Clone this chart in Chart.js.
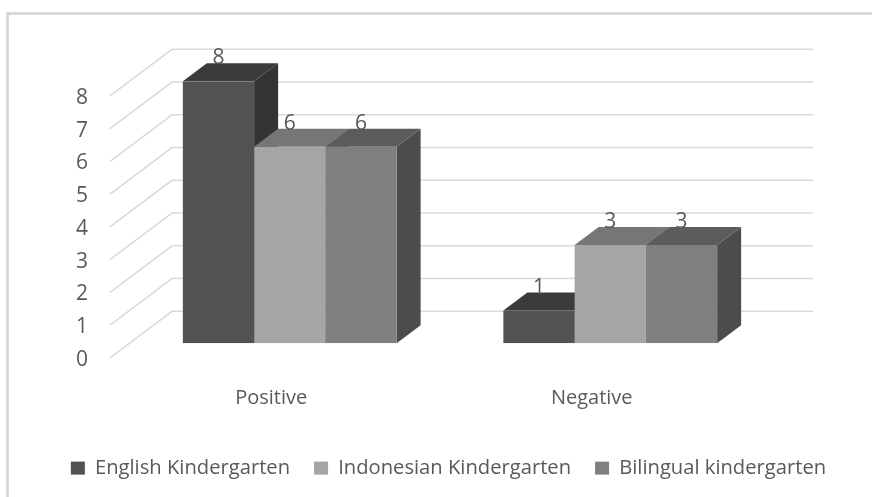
<!DOCTYPE html>
<html>
<head>
<meta charset="utf-8">
<style>
  html, body { margin: 0; padding: 0; background: #fff; }
  #wrap { position: relative; width: 872px; height: 497px; }
</style>
<script src="https://cdn.jsdelivr.net/npm/chart.js@4"></script>
</head>
<body>
<div id="wrap"><canvas id="chart" width="872" height="497"></canvas></div>
<script>
const categories = ['Positive', 'Negative'];
const seriesNames = ['English Kindergarten', 'Indonesian Kindergarten', 'Bilingual kindergarten'];
const englishValues = [8, 1];
const indonesianValues = [6, 3];
const bilingualValues = [6, 3];
const yTicks = [0, 1, 2, 3, 4, 5, 6, 7, 8];

const frontColors = ['#525252', '#a5a5a5', '#7f7f7f'];
const topColors = ['#3b3b3b', '#767676', '#5c5c5c'];
const sideColors = ['#333333', '#666666', '#4c4c4c'];
const textColor = '#595959';
const gridColor = '#d9d9d9';
const frameColor = '#d9d9d9';
const fontName = '"Open Sans", sans-serif';

// 3D offsets, measured from the bar plane
const barDepth = { x: 24, y: -18 };
const wallDepth = { x: 42.5, y: -32 };
const frontEdge = { x: -19.5, y: 14.5 };

const box3d = {
    id: 'box3d',
    beforeDraw(chart) {
        const ctx = chart.ctx;
        ctx.save();
        ctx.fillStyle = frameColor;
        ctx.fillRect(6, 12, 866, 3);
        ctx.fillRect(6, 12, 3, 485);
        ctx.restore();
    },
    beforeDatasetsDraw(chart) {
        const ctx = chart.ctx;
        const yScale = chart.scales.y;
        const area = chart.chartArea;

        // floor and wall grid lines
        ctx.save();
        ctx.strokeStyle = gridColor;
        ctx.lineWidth = 1.5;
        yTicks.forEach(function (t) {
            const y = yScale.getPixelForValue(t);
            ctx.beginPath();
            ctx.moveTo(area.left + frontEdge.x, y + frontEdge.y);
            ctx.lineTo(area.left + wallDepth.x, y + wallDepth.y);
            ctx.lineTo(area.right + wallDepth.x, y + wallDepth.y);
            ctx.stroke();
        });

        // tops and sides go first, the library's bars are the front faces
        chart.data.datasets.forEach(function (ds, i) {
            chart.getDatasetMeta(i).data.forEach(function (bar) {
                const l = bar.x - bar.width / 2;
                const r = bar.x + bar.width / 2;
                ctx.fillStyle = sideColors[i];
                ctx.beginPath();
                ctx.moveTo(r, bar.y);
                ctx.lineTo(r + barDepth.x, bar.y + barDepth.y);
                ctx.lineTo(r + barDepth.x, bar.base + barDepth.y);
                ctx.lineTo(r, bar.base);
                ctx.closePath();
                ctx.fill();
                ctx.fillStyle = topColors[i];
                ctx.beginPath();
                ctx.moveTo(l, bar.y);
                ctx.lineTo(l + barDepth.x, bar.y + barDepth.y);
                ctx.lineTo(r + barDepth.x, bar.y + barDepth.y);
                ctx.lineTo(r, bar.y);
                ctx.closePath();
                ctx.fill();
            });
        });
        ctx.restore();
    },
    afterDatasetsDraw(chart) {
        const ctx = chart.ctx;
        const yScale = chart.scales.y;
        const xScale = chart.scales.x;
        ctx.save();
        ctx.fillStyle = textColor;
        ctx.font = '21px ' + fontName;
        ctx.textAlign = 'center';
        ctx.textBaseline = 'middle';

        // value labels above each bar
        chart.data.datasets.forEach(function (ds, i) {
            chart.getDatasetMeta(i).data.forEach(function (bar, j) {
                ctx.fillText(ds.data[j], bar.x, bar.y - 23);
            });
        });

        // axis labels sit on the front edge of the floor
        yTicks.forEach(function (t) {
            ctx.fillText(t, 82, yScale.getPixelForValue(t) + frontEdge.y + 2);
        });
        ctx.font = '20px ' + fontName;
        categories.forEach(function (c, i) {
            ctx.fillText(c, xScale.getPixelForValue(i) + frontEdge.x + 1, 398);
        });

        ctx.restore();
    }
};

const legendShift = {
    id: 'legendShift',
    afterLayout(chart) {
        chart.legend.left += 25;
        chart.legend.top = 434;
    }
};

new Chart(document.getElementById('chart'), {
    type: 'bar',
    data: {
        labels: categories,
        datasets: [
            { label: seriesNames[0], data: englishValues, backgroundColor: frontColors[0] },
            { label: seriesNames[1], data: indonesianValues, backgroundColor: frontColors[1] },
            { label: seriesNames[2], data: bilingualValues, backgroundColor: frontColors[2] }
        ]
    },
    options: {
        responsive: false,
        animation: false,
        layout: { padding: { top: 81.3, bottom: 0 } },
        datasets: { bar: { categoryPercentage: 0.667, barPercentage: 1 } },
        plugins: {
            tooltip: { enabled: false },
            legend: {
                position: 'bottom',
                labels: {
                    color: textColor,
                    font: { family: fontName, size: 20.2 },
                    boxWidth: 14,
                    boxHeight: 13,
                    padding: 24
                }
            }
        },
        scales: {
            x: {
                grid: { display: false },
                border: { display: false },
                ticks: { display: false },
                afterFit(scale) { scale.height = 497 - 343.3 - scale.chart.legend.height; }
            },
            y: {
                min: 0,
                max: 8,
                grid: { display: false },
                border: { display: false },
                ticks: { display: false, stepSize: 1 },
                afterFit(scale) { scale.width = 129.5; }
            },
            // empty axis, only holds the space right of the plot
            yRight: {
                position: 'right',
                min: 0,
                max: 8,
                grid: { display: false },
                border: { display: false },
                ticks: { display: false },
                afterFit(scale) { scale.width = 101.5; }
            }
        }
    },
    plugins: [box3d, legendShift]
});
</script>
</body>
</html>
